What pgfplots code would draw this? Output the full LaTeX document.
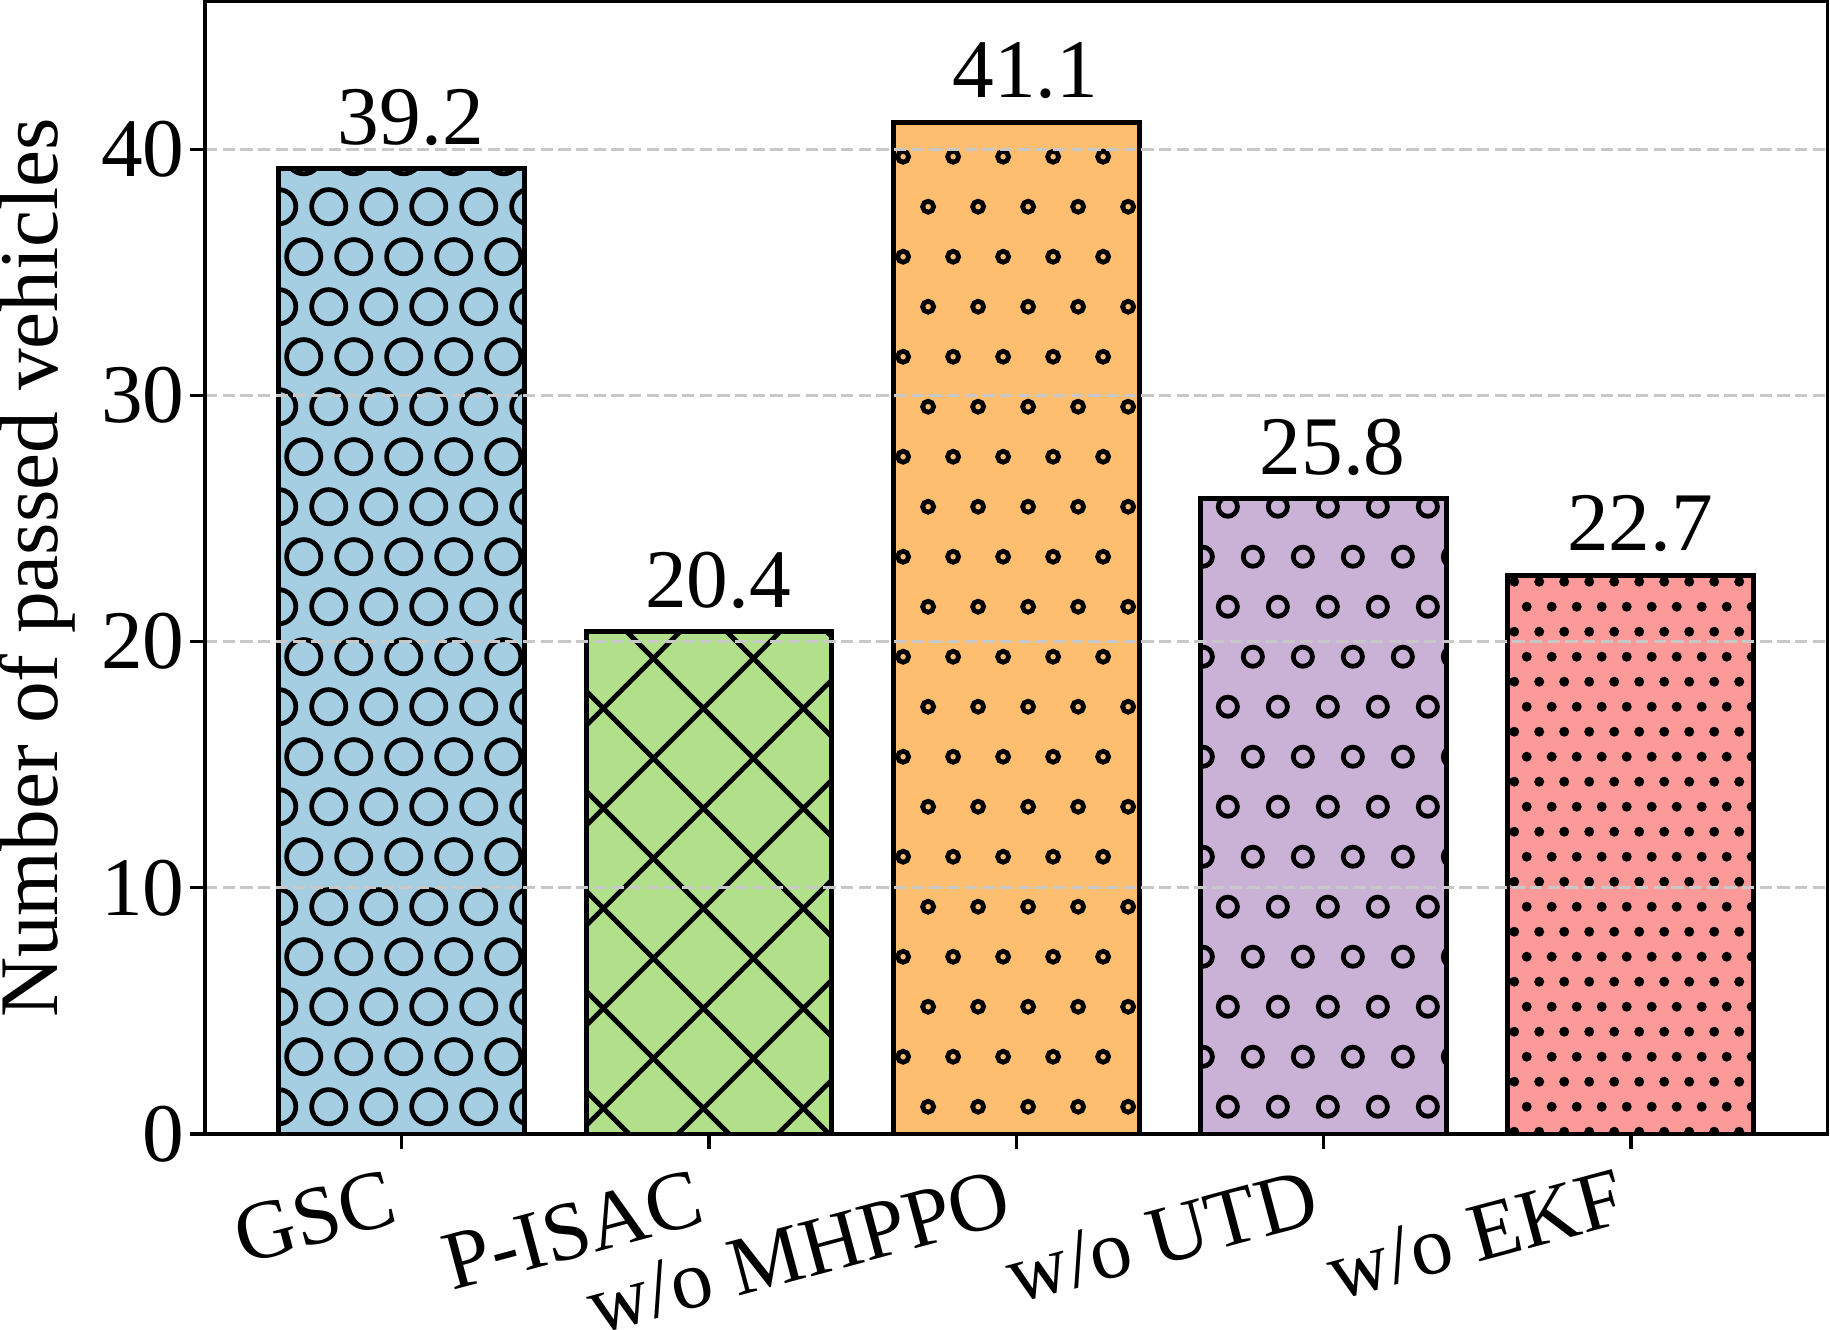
\documentclass[border=0pt]{standalone}
\usepackage{fontspec}
\setmainfont{Liberation Serif}
\usepackage{pgfplots}
\pgfplotsset{compat=1.18}

\definecolor{cA}{HTML}{A6CEE3}
\definecolor{cB}{HTML}{B2DF8A}
\definecolor{cC}{HTML}{FDBF6F}
\definecolor{cD}{HTML}{CAB2D6}
\definecolor{cE}{HTML}{FB9A99}
\definecolor{gridc}{RGB}{200,200,200}
\newcommand{\fs}{\fontsize{20}{24}\selectfont}
\def\PPB{path picture bounding box.south west}
\tikzset{hatchline/.style={path picture={}, black, line width=1.15pt, fill=none, draw=black},
         hatchdot/.style={path picture={}, draw=none, fill=black}}

% open-circle hatch: #1 radius, #2 x offset of row A, #3 x offset of row B, #4 last row pair
\newcommand{\circhatch}[4]{%
  \foreach \j in {0,...,#4}{\foreach \i in {-1,...,5}{%
    \path[hatchline] ([shift={({\i*12pt+#2pt},{\j*24pt+6.55pt})}]\PPB) circle[radius=#1pt];
    \path[hatchline] ([shift={({\i*12pt+#3pt},{\j*24pt+18.55pt})}]\PPB) circle[radius=#1pt];
  }}}
% filled-dot hatch
\newcommand{\dothatch}{%
  \foreach \j in {0,...,11}{\foreach \i in {-1,...,10}{%
    \path[hatchdot] ([shift={({\i*6pt+1.51pt},{\j*12pt+0.55pt})}]\PPB) circle[radius=1.2pt];
    \path[hatchdot] ([shift={({\i*6pt+4.51pt},{\j*12pt+6.55pt})}]\PPB) circle[radius=1.2pt];
  }}}
% diagonal cross hatch
\newcommand{\crosshatch}{%
  \foreach \k in {-3,...,5}{\path[hatchline] ([shift={(-5pt,{-3pt+24pt*\k})}]\PPB) -- ++(70pt,70pt);}%
  \foreach \k in {-1,...,8}{\path[hatchline] ([shift={(-5pt,{15.34pt+24pt*\k})}]\PPB) -- ++(70pt,-70pt);}}

\begin{document}
\begin{tikzpicture}
\useasboundingbox (-49.2pt,-46.8pt) rectangle (390.0pt,272.16pt);
\begin{axis}[
  scale only axis, width=389.4pt, height=271.8pt,
  xmin=-0.64, xmax=4.64, ymin=0, ymax=46,
  xtick={0,1,2,3,4},
  xticklabels={GSC,P-ISAC,w/o MHPPO,w/o UTD,w/o EKF},
  ytick={0,10,20,30,40},
  ybar, bar width=0.8, bar shift=0pt,
  axis line style={line width=0.8pt},
  tick style={line width=0.8pt, black},
  major tick length=3.5pt,
  tick align=outside,
  xtick pos=left, ytick pos=left,
  ymajorgrids,
  major grid style={line width=0.8pt, color=gridc, dash pattern=on 2.96pt off 1.28pt},
  axis on top,
  tick label style={font=\fs},
  /pgf/number format/assume math mode=true,
  yticklabel style={anchor=east, inner sep=0pt, xshift=-1.2pt},
  xticklabel style={xshift=-3.6pt, yshift=-4.6pt, anchor=north east, inner sep=0pt, rotate=15},
  ylabel={Number of passed vehicles},
  every axis y label/.style={at={(axis description cs:-0.0907,0.5)}, rotate=90, anchor=base, font=\fs},
  nodes near coords={\pgfmathprintnumber[fixed,fixed zerofill,precision=1]{\pgfplotspointmeta}},
  every node near coord/.style={path picture={}, font=\fs, anchor=base, xshift=2.2pt, yshift=5.9pt, inner sep=0pt, text=black},
]
\addplot[fill=cA, draw=black, line width=1.2pt, path picture={\circhatch{4.1}{0}{6}{10}}] coordinates {(0,39.2)};
\addplot[fill=cB, draw=black, line width=1.2pt, path picture={\crosshatch}] coordinates {(1,20.4)};
\addplot[fill=cC, draw=black, line width=1.2pt, path picture={\circhatch{1.32}{8.35}{2.35}{10}}] coordinates {(2,41.1)};
\addplot[fill=cD, draw=black, line width=1.2pt, path picture={\circhatch{2.3}{6.53}{0.53}{6}}] coordinates {(3,25.8)};
\addplot[fill=cE, draw=black, line width=1.2pt, path picture={\dothatch}] coordinates {(4,22.7)};
\end{axis}
\end{tikzpicture}
\end{document}
